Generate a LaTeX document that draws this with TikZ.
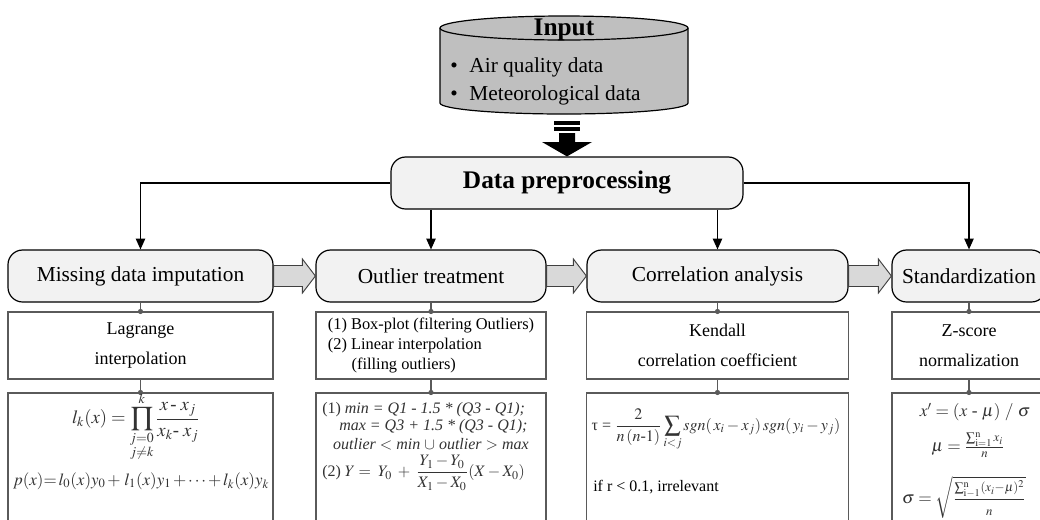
\documentclass[tikz,border=0pt]{standalone}
\usepackage{amsmath}
\usepackage{mathptmx}
\usepackage{fontspec}
\setmainfont{Liberation Serif}
\usepackage{graphicx}
\usetikzlibrary{arrows.meta,calc}
\definecolor{boxfill}{HTML}{F2F2F2}
\definecolor{cylfill}{HTML}{BFBFBF}
\definecolor{arrfill}{HTML}{D9D9D9}
\definecolor{edgegray}{HTML}{5A5A5A}
\definecolor{fcol}{HTML}{333333}
\newcommand\myblockarrow[2]{%
  \draw[blockarr] ($(#1.east)+(0,-10.5)$) -- ($(#2.west)+(-13,-10.5)$) -- ($(#2.west)+(-13,-17)$) -- (#2.west) -- ($(#2.west)+(-13,17)$) -- ($(#2.west)+(-13,10.5)$) -- ($(#1.east)+(0,10.5)$) -- cycle;}
\begin{document}
\begin{tikzpicture}[x=0.75pt,y=-0.75pt,
  procbox/.style={draw=black, line width=0.9pt, fill=boxfill, rounded corners=11pt, inner sep=0pt, minimum height=39pt},
  subbox/.style={draw=edgegray, line width=0.8pt, fill=white, inner sep=0pt},
  conn/.style={draw=black, line width=0.8pt, -{Triangle[length=8pt,width=7pt]}},
  dotconn/.style={draw=edgegray, line width=0.8pt},
  blockarr/.style={draw=black!75, line width=0.7pt, fill=arrfill},
  rowfont/.style={font=\fontsize{16}{19}\selectfont},
  subfont/.style={font=\fontsize{13.5}{22.5}\selectfont, align=center},
  frm/.style={inner sep=0pt, text=fcol, font=\fontsize{12}{14}\selectfont},
]
\useasboundingbox (0,0) rectangle (1040,519);
\clip (0,0) rectangle (1040,519);

% ---- input cylinder
\path[draw=black, line width=0.9pt, fill=cylfill] (440,28) -- (440,103) arc[start angle=180, end angle=0, x radius=124, y radius=11] -- (688,28) arc[start angle=0, end angle=-180, x radius=124, y radius=12] -- cycle;
\draw[line width=0.9pt] (440,28) arc[start angle=180, end angle=0, x radius=124, y radius=12];
\node[inner sep=0pt, anchor=base, font=\bfseries\fontsize{19}{22}\selectfont] (input) at (564,35) {Input};
\node[anchor=west, inner sep=0pt, font=\fontsize{16}{19}\selectfont] (b1) at (450,67) {\textbullet\hspace{0.55em}Air quality data};
\node[anchor=west, inner sep=0pt, font=\fontsize{16}{19}\selectfont] (b2) at (450,95) {\textbullet\hspace{0.55em}Meteorological data};

% ---- data preprocessing
\node[procbox, minimum width=264pt, font=\bfseries\fontsize{19}{22}\selectfont] (dp) at (567,183) {Data preprocessing};

% ---- thick arrow
\fill (554,121) rectangle (580,125);
\fill (554,127) rectangle (580,131);
\fill (559,133) -- (575,133) -- (575,142) -- (592,142) -- (dp.north) -- (542,142) -- (559,142) -- cycle;

% ---- row 1
\node[procbox, rowfont, minimum width=198.75pt] (miss) at (140.5,276) {Missing data imputation};
\node[procbox, rowfont, minimum width=172.5pt] (outl) at (431,276) {Outlier treatment};
\node[procbox, rowfont, minimum width=195.75pt] (corr) at (717.5,276) {Correlation analysis};
\node[procbox, rowfont, minimum width=115.5pt] (stdz) at (969,276) {Standardization};

\draw[conn] (dp.west) -| (miss.north);
\draw[conn] (dp.east) -| (stdz.north);
\draw[conn] (dp.south -| outl.north) -- (outl.north);
\draw[conn] (dp.south -| corr.north) -- (corr.north);

\myblockarrow{miss}{outl}
\myblockarrow{outl}{corr}
\myblockarrow{corr}{stdz}

% ---- row 2
\node[subbox, subfont, minimum width=198.75pt, minimum height=50.25pt] (lag) at (140.5,345.5) {Lagrange\\interpolation};
\node[subbox, align=left, font=\fontsize{12.3}{15}\selectfont, minimum width=172.5pt, minimum height=50.25pt] (obox) at (431,345.5) {(1) Box-plot (filtering Outliers)\\(2) Linear interpolation\\\hspace*{1.45em}(filling outliers)};
\node[subbox, subfont, minimum width=196.5pt, minimum height=50.25pt] (kend) at (717.5,345.5) {Kendall\\correlation coefficient};
\node[subbox, subfont, minimum width=115.5pt, minimum height=50.25pt] (zsc) at (969,345.5) {Z-score\\normalization};

% ---- row 3
\node[subbox, minimum width=198.75pt, minimum height=102.75pt] (lag3) at (140.5,461.5) {};
\node[subbox, minimum width=172.5pt, minimum height=102.75pt] (obox3) at (431,461.5) {};
\node[subbox, minimum width=196.5pt, minimum height=102.75pt] (kend3) at (717.5,461.5) {};
\node[subbox, minimum width=115.5pt, minimum height=102.75pt] (zsc3) at (969,461.5) {};

% ---- dot connectors
\foreach \a/\b in {miss/lag, outl/obox, corr/kend, stdz/zsc, lag/lag3, obox/obox3, kend/kend3, zsc/zsc3}{
  \draw[dotconn] (\a.south) -- (\b.north);
  \fill[edgegray] (\b.north) circle[radius=2.6];
}

% ---- formulas
\node[frm, font=\fontsize{14}{16}\selectfont] (lf1) at (136,427) {$l_k(x) = \displaystyle\prod_{\substack{j=0\\ j\neq k}}^{k} \frac{x\,\text{-}\; x_j}{x_k\text{-}\; x_j}$};
\node[frm, font=\fontsize{15}{18}\selectfont] (lf2) at (141,481) {\resizebox{192pt}{!}{\medmuskip=2mu\thickmuskip=2mu$p(x){=}\, l_0(x)y_0 +\, l_1(x)y_1 + \cdots + l_k(x)y_k$}};

\node[frm, anchor=west] (o1) at (322,410) {(1) \textit{min = Q1 - 1.5 * (Q3 - Q1);}};
\node[frm, anchor=west] (o2) at (339,427) {\textit{max = Q3 + 1.5 * (Q3 - Q1);}};
\node[frm] (o3) at (431,444) {\textit{outlier} $<$ \textit{min} $\cup$ \textit{outlier} $>$ \textit{max}};
\node[frm, anchor=west] (o4) at (322,473) {(2) $Y=\; Y_0 \;+\; \dfrac{Y_1 - Y_0}{X_1 - X_0}(X - X_0)$};

\node[frm] (kf) at (716,430) {τ = $\dfrac{2}{n\,(n\text{-}1)}\displaystyle\sum_{i<j} \mathit{sgn}(\,x_i - x_j)\,\mathit{sgn}(\,y_i - y_j)$};
\node[anchor=west, inner sep=0pt, font=\fontsize{12}{14}\selectfont] (kt) at (593,487) {if r < 0.1, irrelevant};

\node[frm, font=\fontsize{13}{15}\selectfont] (z1) at (975,412) {$x' = (x\text{ - }\mu)\ /\ \sigma$};
\node[frm, font=\fontsize{13}{15}\selectfont] (z2) at (968,445) {$\mu = \frac{\sum_{\mathrm{i}=1}^{\mathrm{n}} x_i}{n}$};
\node[frm, font=\fontsize{13}{15}\selectfont] (z3) at (964,497) {$\sigma = \sqrt{\dfrac{\scriptstyle\sum_{\mathrm{i}-1}^{\mathrm{n}} (x_i - \mu)^2}{\scriptstyle n}}$};
\end{tikzpicture}
\end{document}
